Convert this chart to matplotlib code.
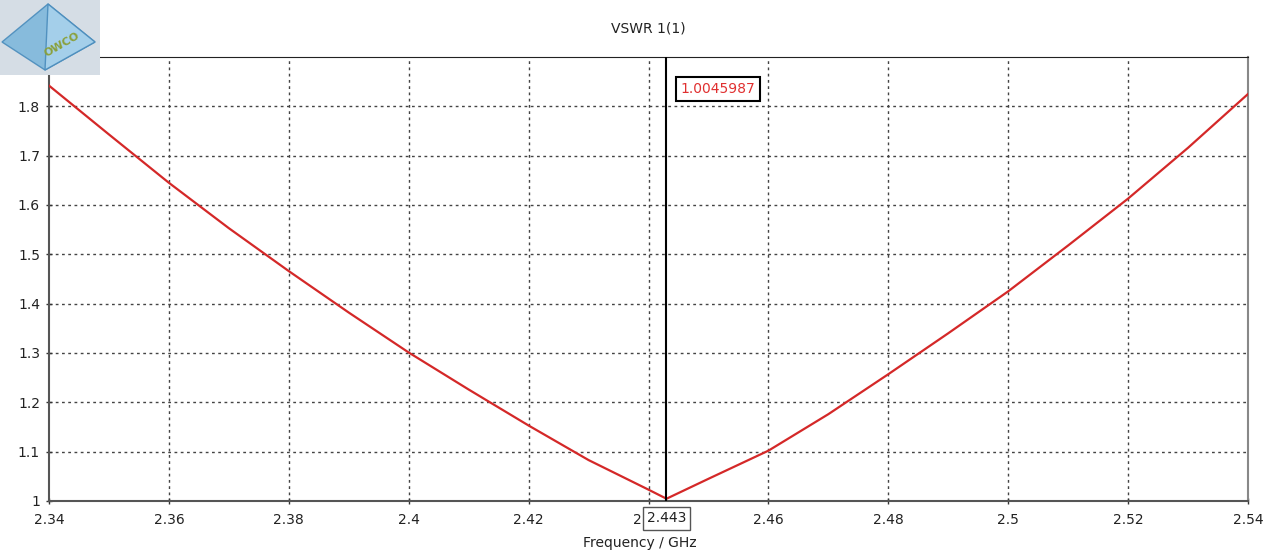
# VSWR plot, CST style
import numpy as np
import matplotlib
matplotlib.use("Agg")
from matplotlib import pyplot as plt
from matplotlib.patches import Rectangle, Polygon

# data
freq = [2.34, 2.35, 2.36, 2.37, 2.38, 2.39, 2.40, 2.41, 2.42, 2.43, 2.44, 2.443,
        2.45, 2.46, 2.47, 2.48, 2.49, 2.50, 2.51, 2.52, 2.53, 2.54]
vswr = [1.842, 1.743, 1.645, 1.553, 1.466, 1.382, 1.301, 1.226, 1.153, 1.083, 1.023, 1.0046,
        1.045, 1.102, 1.176, 1.257, 1.340, 1.425, 1.518, 1.613, 1.716, 1.825]

xticks = [2.34, 2.36, 2.38, 2.40, 2.42, 2.44, 2.46, 2.48, 2.50, 2.52, 2.54]
xlabels = ["2.34", "2.36", "2.38", "2.4", "2.42", "2.44", "2.46", "2.48", "2.5", "2.52", "2.54"]
yticks = [1.0, 1.1, 1.2, 1.3, 1.4, 1.5, 1.6, 1.7, 1.8]
ylabels = ["1", "1.1", "1.2", "1.3", "1.4", "1.5", "1.6", "1.7", "1.8"]

marker_x = 2.443
marker_val = "1.0045987"
marker_lbl = "2.443"

plt.rcParams['font.family'] = ['DejaVu Sans']

fig = plt.figure(figsize=(12.8, 5.57), dpi=100)
ax = fig.add_axes([49/1280, 1-501/557, (1248-49)/1280, (501-57)/557])

ax.plot(freq, vswr, color='#d42828', lw=1.6, zorder=3)
ax.axvline(marker_x, color='black', lw=1.5, zorder=4)

ax.set_xlim(2.34, 2.54)
ax.set_ylim(1.0, 1.9)
ax.set_xticks(xticks)
ax.set_xticklabels(xlabels)
ax.set_yticks(yticks)
ax.set_yticklabels(ylabels)
ax.tick_params(direction='inout', length=5, width=1, colors='#333333', labelsize=10,
               labelcolor='#222222')
ax.tick_params(axis='x', pad=6)
ax.tick_params(axis='y', pad=4)

# dotted grid
for y in yticks[1:]:
    ax.axhline(y, color='#444444', lw=1, ls=(0, (2, 2.5)), zorder=1)
for x in xticks[1:-1]:
    ax.axvline(x, color='#444444', lw=1, ls=(0, (2, 2.5)), zorder=1)

for side in ['left', 'bottom']:
    ax.spines[side].set_color('#555555')
    ax.spines[side].set_linewidth(1.5)
ax.spines['top'].set_color('#222222')
ax.spines['right'].set_color('#888888')
ax.spines['right'].set_linewidth(1.5)

# marker value box
ax.annotate(marker_val, xy=(marker_x, 1.9), xytext=(10, -23), textcoords='offset points',
            color='#e03030', fontsize=10, ha='left', va='center',
            bbox=dict(boxstyle='square,pad=0.35', fc='white', ec='black', lw=1.5), zorder=5)

# marker frequency box on x axis, covers most of the 2.44 label
ax.annotate(marker_lbl, xy=(marker_x, 1.0), xytext=(0, -12.5), textcoords='offset points',
            color='#222222', fontsize=10, ha='center', va='center', annotation_clip=False,
            bbox=dict(boxstyle='square,pad=0.3', fc='white', ec='#555555', lw=1), zorder=6)

fig.text(648/1280, 1-28/557, "VSWR 1(1)", ha='center', va='center', fontsize=10, color='#222222')
fig.text(640/1280, 1-543/557, "Frequency / GHz", ha='center', va='center', fontsize=10, color='#222222')

# rough logo in the corner
fig.patches.append(Rectangle((0, 1-75/557), 100/1280, 75/557, transform=fig.transFigure,
                             fc='#d5dde5', ec='none', zorder=0))
fig.patches.append(Polygon([(2/1280, 1-42/557), (48/1280, 1-4/557), (95/1280, 1-42/557),
                            (45/1280, 1-70/557)], closed=True, transform=fig.transFigure,
                           fc='#7fb8dc', ec='#4a8cbc', lw=1, alpha=0.9, zorder=1))
fig.patches.append(Polygon([(48/1280, 1-4/557), (45/1280, 1-70/557), (95/1280, 1-42/557)],
                           closed=True, transform=fig.transFigure,
                           fc='#a8d2ec', ec='#4a8cbc', lw=1, alpha=0.9, zorder=1))
fig.text(62/1280, 1-45/557, "OWCO", fontsize=8, color='#8aa03a', rotation=30,
         ha='center', va='center', fontweight='bold')

fig.savefig("out.png", dpi=100)
